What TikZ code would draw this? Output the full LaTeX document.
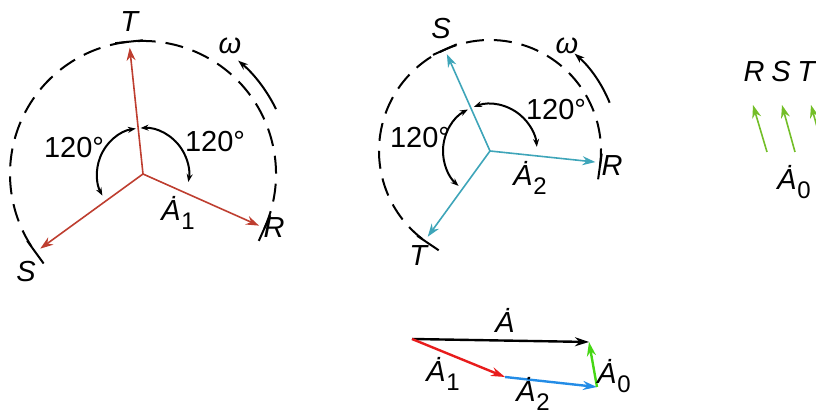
\documentclass[tikz,border=0pt]{standalone}
\usepackage{fontspec}
\setmainfont{Liberation Sans}
\usetikzlibrary{arrows.meta,calc}
\usepackage{xcolor}
\definecolor{posred}{RGB}{190,62,48}
\definecolor{negteal}{RGB}{62,165,185}
\definecolor{zerogreen}{RGB}{115,190,40}
\definecolor{sumred}{RGB}{232,28,28}
\definecolor{sumblue}{RGB}{35,140,230}
\definecolor{sumgreen}{RGB}{70,215,20}
\newcommand{\phasor}[1]{\textit{\.A}\kern0.3pt\raisebox{-0.55ex}{\fontsize{12}{12}\selectfont #1}}

\begin{document}
\begin{tikzpicture}[x=0.5pt, y=0.5pt,
  lbl/.style={inner sep=0pt, font=\fontsize{14.5}{16}\selectfont},
  vec/.style={line width=0.8pt, -{Stealth[length=6.5pt,width=4.5pt]}},
  sumvec/.style={line width=1.2pt, -{Stealth[length=7pt,width=4.5pt]}},
  orbit/.style={line width=1pt, dash pattern=on 9pt off 5pt},
  tickmark/.style={line width=1pt},
  angarc/.style={line width=1pt, {Stealth[length=4pt,width=3pt]}-{Stealth[length=4pt,width=3pt]}},
  spin/.style={line width=1pt, -{Stealth[length=5pt,width=3.5pt]}}
]
  \useasboundingbox (0,0) rectangle (816,416);

  % positive sequence R-S-T
  \coordinate (O1) at (143,242);
  \coordinate (T1) at ($(O1)+(96:127)$);
  \coordinate (R1) at ($(O1)+(-24:127)$);
  \coordinate (S1) at ($(O1)+(216:127)$);
  \draw[orbit] ($(O1)+(-24:133)$) arc[start angle=-24, end angle=216, radius=133];
  \foreach \a in {96,-24,216}
    \draw[tickmark] ($(O1)+(\a:133)+(\a+90:14)$) -- ($(O1)+(\a:133)+(\a-90:14)$);
  \draw[vec, posred] (O1) -- (T1);
  \draw[vec, posred] (O1) -- (R1);
  \draw[vec, posred] (O1) -- (S1);
  \draw[angarc] ($(O1)+(99:46)$) arc[start angle=99, end angle=208, radius=46];
  \draw[angarc] ($(O1)+(93:46)$) arc[start angle=93, end angle=-10, radius=46];
  \draw[spin] ($(O1)+(26:148)$) arc[start angle=26, end angle=50, radius=148];
  \node[lbl] (t1) at (130,394) {\textit{T}};
  \node[lbl] (r1) at (274,188) {\textit{R}};
  \node[lbl] (s1) at (26,144) {\textit{S}};
  \node[lbl] (w1) at (230,370) {\textit{ω}};
  \node[lbl] (a1) at (178,203) {\phasor{1}};
  \node[lbl] (g1l) at (74,268) {120°};
  \node[lbl] (g1r) at (215,274) {120°};

  % negative sequence R-T-S
  \coordinate (O2) at (490,265);
  \coordinate (S2) at ($(O2)+(114:106)$);
  \coordinate (R2) at ($(O2)+(-6:106)$);
  \coordinate (T2) at ($(O2)+(234:106)$);
  \draw[orbit] ($(O2)+(-8:111)$) arc[start angle=-8, end angle=236, radius=111];
  \foreach \a in {114,-8,236}
    \draw[tickmark] ($(O2)+(\a:111)+(\a+90:13)$) -- ($(O2)+(\a:111)+(\a-90:13)$);
  \draw[vec, negteal] (O2) -- (S2);
  \draw[vec, negteal] (O2) -- (R2);
  \draw[vec, negteal] (O2) -- (T2);
  \draw[angarc] ($(O2)+(118:47)$) arc[start angle=118, end angle=228, radius=47];
  \draw[angarc] ($(O2)+(110:47)$) arc[start angle=110, end angle=5, radius=47];
  \draw[spin] ($(O2)+(22:129)$) arc[start angle=22, end angle=49, radius=129];
  \node[lbl] (s2) at (441,387) {\textit{S}};
  \node[lbl] (r2) at (612,250) {\textit{R}};
  \node[lbl] (t2) at (419,160) {\textit{T}};
  \node[lbl] (w2) at (567,370) {\textit{ω}};
  \node[lbl] (a2) at (530,238) {\phasor{2}};
  \node[lbl] (g2l) at (420,278) {120°};
  \node[lbl] (g2r) at (556,306) {120°};

  % zero sequence
  \coordinate (Z1a) at (767,264);
  \coordinate (Z1b) at (753,311);
  \coordinate (Z2a) at (795,264);
  \coordinate (Z2b) at (782,311);
  \coordinate (Z3a) at (824,264);
  \coordinate (Z3b) at (811,311);
  \draw[vec, zerogreen] (Z1a) -- (Z1b);
  \draw[vec, zerogreen] (Z2a) -- (Z2b);
  \draw[vec, zerogreen] (Z3a) -- (Z3b);
  \node[lbl] (r3) at (754,344) {\textit{R}};
  \node[lbl] (s3) at (781,344) {\textit{S}};
  \node[lbl] (t3) at (807,344) {\textit{T}};
  \node[lbl] (a0) at (794,234) {\phasor{0}};

  % sum of the three components
  \coordinate (P0) at (412,77);
  \coordinate (P1) at (505,39);
  \coordinate (P2) at (597,29);
  \coordinate (P3) at (589,74);
  \draw[sumvec, black] (P0) -- (P3);
  \draw[sumvec, sumred] (P0) -- (P1);
  \draw[sumvec, sumblue] (P1) -- (P2);
  \draw[sumvec, sumgreen] (P2) -- (P3);
  \node[lbl] (aa) at (505,96) {\textit{\.A}};
  \node[lbl] (aa1) at (443,42) {\phasor{1}};
  \node[lbl] (aa2) at (533,22) {\phasor{2}};
  \node[lbl] (aa0) at (614,40) {\phasor{0}};
\end{tikzpicture}
\end{document}
